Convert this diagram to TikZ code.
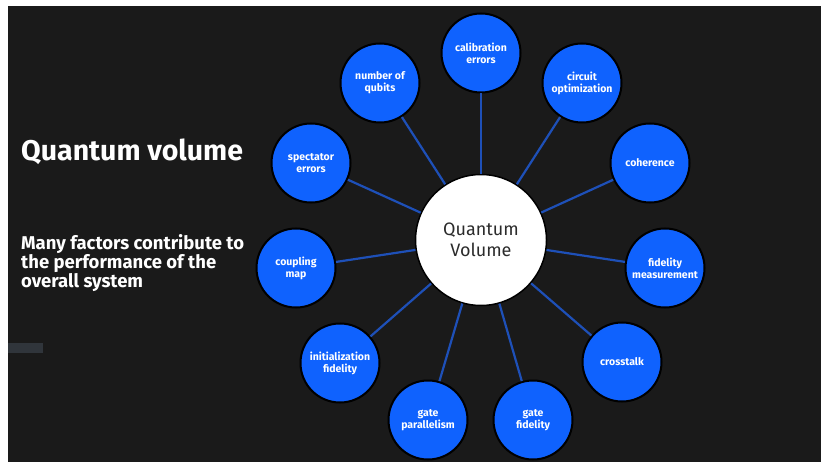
\documentclass[tikz,border=0pt]{standalone}
\usepackage{fontspec}
\setmainfont{Fira Sans}
\definecolor{bgdark}{HTML}{1A1A1A}
\definecolor{ibmblue}{HTML}{0F62FE}
\definecolor{spoke}{HTML}{1E50B8}
\definecolor{qvtext}{HTML}{2B2B2B}
\definecolor{tag}{HTML}{30353B}
\tikzset{
  factor/.style={circle, fill=ibmblue, draw=black, line width=2pt, minimum size=79pt, inner sep=0pt,
    text=white, align=center, font=\fontsize{10.5}{12}\selectfont\bfseries},
  hub/.style={circle, fill=white, draw=black, line width=1.5pt, minimum size=131pt, inner sep=0pt,
    text=qvtext, align=center, font=\fontsize{18}{20.5}\selectfont},
  spokeline/.style={draw=spoke, line width=2.2pt}
}
\begin{document}
\begin{tikzpicture}[x=1pt,y=-1pt]
\fill[white] (0,0) rectangle (821,462);
\useasboundingbox (0,0) rectangle (821,462);
\fill[bgdark] (8,6) rectangle (821,462);
\fill[tag] (8,343) rectangle (43,353);

\node[anchor=base west, inner sep=0pt, text=white, font=\fontsize{28.5}{32}\selectfont\bfseries] (title) at (21,161) {Quantum volume};
\node[anchor=north west, inner sep=0pt, text=white, align=left, font=\fontsize{18.5}{17.8}\selectfont\bfseries] (sub) at (21,234) {Many factors contribute to\\the performance of the\\overall system};

\node[hub] (qv) at (481,240) {Quantum\\Volume};

\node[factor] (cal) at (481,53) {calibration\\errors};
\node[factor] (nq) at (380,83) {number of\\qubits};
\node[factor] (co) at (582,83) {circuit\\optimization};
\node[factor] (se) at (311,163) {spectator\\errors};
\node[factor] (coh) at (650,163) {coherence};
\node[factor] (cm) at (296,268) {coupling\\map};
\node[factor] (fm) at (665,268) {fidelity\\measurement};
\node[factor] (inf) at (340,363) {initialization\\fidelity};
\node[factor] (ct) at (622,362) {crosstalk};
\node[factor] (gp) at (428,420) {gate\\parallelism};
\node[factor] (gf) at (533,420) {gate\\fidelity};

\foreach \n in {cal,nq,co,se,coh,cm,fm,inf,ct,gp,gf}
  \draw[spokeline] (qv) -- (\n);
\end{tikzpicture}
\end{document}
